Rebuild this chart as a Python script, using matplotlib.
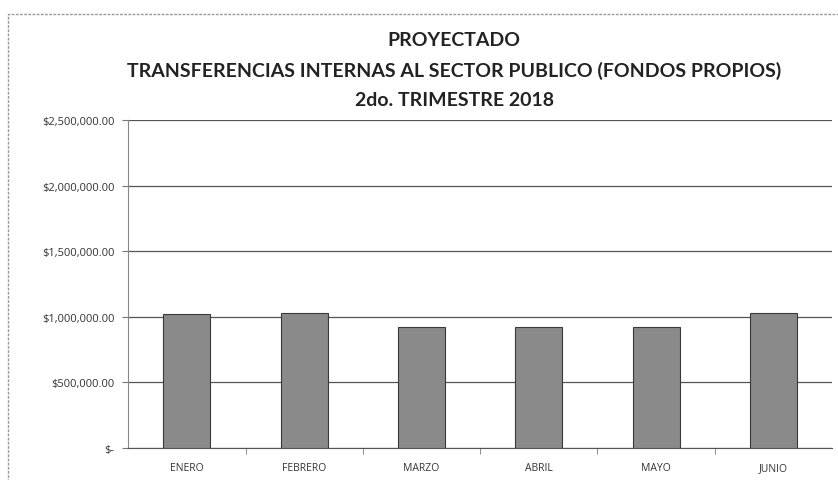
import matplotlib
matplotlib.use("Agg")
import matplotlib.pyplot as plt
from matplotlib.patches import Rectangle

categories = ["ENERO", "FEBRERO", "MARZO", "ABRIL", "MAYO", "JUNIO"]
values = [1020000, 1030000, 925000, 920000, 925000, 1030000]
yticks = [0, 500000, 1000000, 1500000, 2000000, 2500000]
ytick_labels = ["$-", "$500,000.00", "$1,000,000.00", "$1,500,000.00", "$2,000,000.00", "$2,500,000.00"]
title_lines = ["PROYECTADO", "TRANSFERENCIAS INTERNAS AL SECTOR PUBLICO (FONDOS PROPIOS)", "2do. TRIMESTRE 2018"]

plt.rcParams['font.family'] = ['Open Sans', 'DejaVu Sans']

fig = plt.figure(figsize=(8.38, 4.81), dpi=100)
ax = fig.add_axes([0.153, 0.0665, 0.84, 0.6815])

x = list(range(len(categories)))
ax.bar(x, values, width=0.4, color='#8a8a8a', edgecolor='#3a3a3a', linewidth=0.8, zorder=3)

ax.set_xlim(-0.5, len(categories) - 0.5)
ax.set_ylim(0, 2500000)
ax.set_yticks(yticks)
ax.set_yticklabels(ytick_labels, fontsize=8, color='#333333')
ax.set_xticks(x)
ax.set_xticklabels(categories, fontsize=7.5, color='#333333')
ax.tick_params(axis='x', length=0, pad=10)
ax.tick_params(axis='y', length=4, color='#777777', pad=6)
ax.set_xticks([i + 0.5 for i in range(len(categories) - 1)], minor=True)
ax.tick_params(axis='x', which='minor', length=4, color='#777777')

ax.grid(axis='y', color='#555555', linewidth=0.9, zorder=0)
for s in ['top', 'right']:
    ax.spines[s].set_visible(False)
ax.spines['left'].set_color('#888888')
ax.spines['left'].set_linestyle((0, (2, 1)))
ax.spines['bottom'].set_color('#555555')

ys = [0.915, 0.853, 0.791]
for t, yy in zip(title_lines, ys):
    fig.text(0.542, yy, t, ha='center', va='center', fontsize=14, fontweight='bold',
             color='#222222', family=['Lato', 'DejaVu Sans'])

fig.patches.append(Rectangle((0.01, -0.01), 1.0, 0.978, transform=fig.transFigure,
                             fill=False, edgecolor='#999999', linewidth=1, linestyle=(0, (2, 1))))

fig.savefig("out.png", dpi=100)
